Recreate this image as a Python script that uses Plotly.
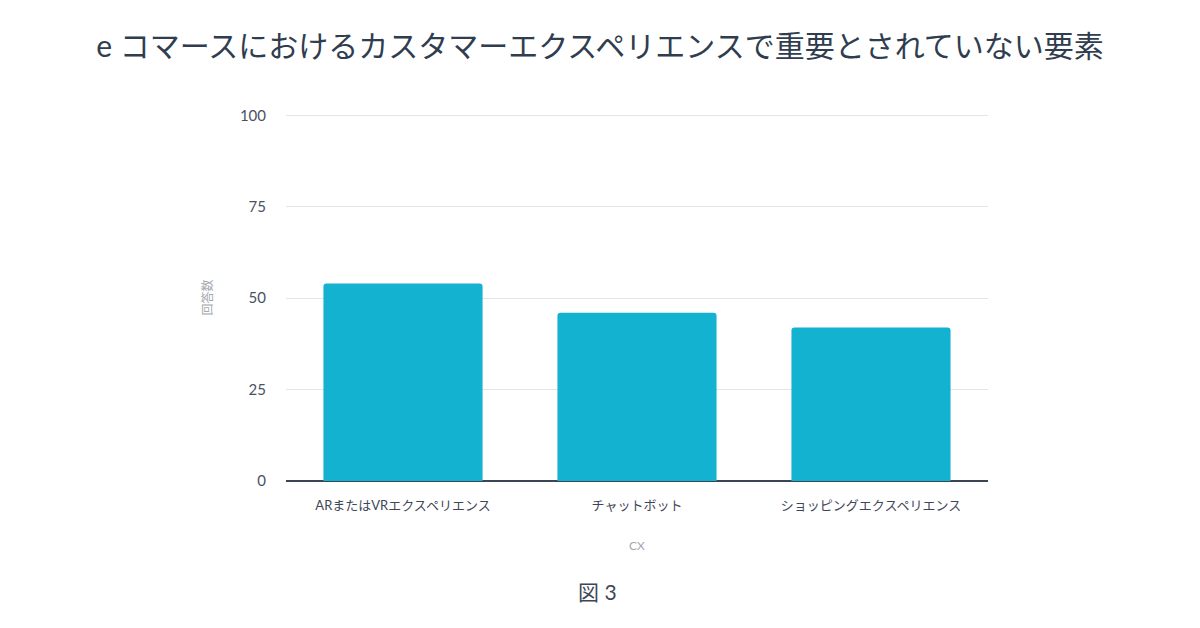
import plotly.graph_objects as go

CATEGORIES = ["ARまたはVRエクスペリエンス", "チャットボット", "ショッピングエクスペリエンス"]
RESPONSES = [54, 46, 42]
Y_TICKS = [0, 25, 50, 75, 100]

TITLE = "e コマースにおけるカスタマーエクスペリエンスで重要とされていない要素"
CAPTION = "図 3"

FONT = "Lato, 'Noto Sans CJK JP', sans-serif"

## the page has an 8px body margin, so the figure is 8px smaller each way
W, H = 1192, 620
L, R = 278, 212

fig = go.Figure()
fig.add_trace(go.Bar(
    x=CATEGORIES,
    y=RESPONSES,
    marker=dict(color="#14b2d1", line=dict(width=0), cornerradius=3),
    hoverinfo="x+y",
))

fig.update_layout(
    width=W,
    height=H,
    plot_bgcolor="white",
    paper_bgcolor="white",
    font=dict(family=FONT, color="#3f4756"),
    showlegend=False,
    bargap=0.32,
    margin=dict(l=L, r=R, t=106, b=147, autoexpand=False),
    title=dict(
        text=TITLE,
        x=592 / W, xanchor="center",
        y=1 - 38 / H, yanchor="middle",
        font=dict(size=30, color="#2f3d4f"),
    ),
)

fig.update_yaxes(
    range=[0, 100.4],
    tickvals=Y_TICKS,
    showgrid=True,
    gridcolor="#e5e5e5",
    gridwidth=1,
    zeroline=True,
    zerolinecolor="#3d4554",
    zerolinewidth=2,
    tickfont=dict(size=15, color="#4a5262"),
    ticks="",
    ticklabelstandoff=19,
    title=dict(text="回答数", font=dict(size=12, color="#a4a8ae"), standoff=24),
)
fig.update_xaxes(
    showgrid=False,
    showline=False,
    ticks="outside",
    ticklen=12,
    tickcolor="rgba(0,0,0,0)",
    tickfont=dict(size=13, color="#3f4756"),
    title=dict(text="CX", font=dict(size=12, color="#a4a8ae"), standoff=30),
)

## caption sits under the page centre, not the plot centre
fig.add_annotation(
    text=CAPTION,
    xref="paper", yref="paper",
    x=(589 - L) / (W - L - R), y=-0.30,
    xanchor="center", yanchor="middle",
    showarrow=False,
    font=dict(size=21, color="#3f4756"),
)

fig.write_html("out.html")
